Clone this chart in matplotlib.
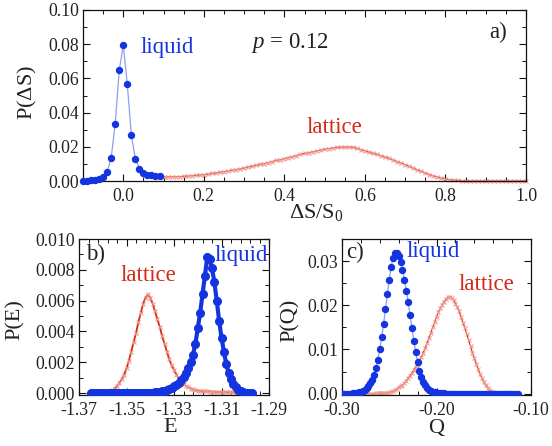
import numpy as np
import matplotlib
matplotlib.use("Agg")
import matplotlib.pyplot as plt
from matplotlib.ticker import FormatStrFormatter, FixedLocator, AutoMinorLocator

plt.rcParams['font.family'] = ['Liberation Serif', 'DejaVu Serif']
plt.rcParams['mathtext.fontset'] = 'custom'
plt.rcParams['mathtext.rm'] = 'Liberation Serif'
plt.rcParams['mathtext.it'] = 'Liberation Serif:italic'
plt.rcParams['axes.unicode_minus'] = False

# ---------------- data ----------------
# panel a: P(dS)
a_liquid_x = np.round(np.arange(-0.10, 0.095, 0.01), 3)
a_liquid_y = [0.0002, 0.0002, 0.0003, 0.0004, 0.0010, 0.0025, 0.0055, 0.0135, 0.0335, 0.0647,
              0.0795, 0.0565, 0.0270, 0.0130, 0.0073, 0.0047, 0.0037, 0.0033, 0.0030, 0.0030]
a_lattice_x = np.round(np.arange(0.10, 1.005, 0.01), 3)
a_lattice_y = [0.0024, 0.0024, 0.0025, 0.0025, 0.0026, 0.0027, 0.0029, 0.0031, 0.0033, 0.0035,
               0.0037, 0.0040, 0.0044, 0.0047, 0.0051, 0.0055, 0.0059, 0.0063, 0.0067, 0.0072,
               0.0076, 0.0081, 0.0086, 0.0091, 0.0097, 0.0102, 0.0108, 0.0114, 0.0120, 0.0125,
               0.0131, 0.0137, 0.0143, 0.0149, 0.0155, 0.0161, 0.0166, 0.0171, 0.0176, 0.0181,
               0.0186, 0.0190, 0.0193, 0.0196, 0.0198, 0.0199, 0.0199, 0.0197, 0.0191, 0.0184,
               0.0176, 0.0169, 0.0162, 0.0155, 0.0148, 0.0141, 0.0132, 0.0123, 0.0114, 0.0105,
               0.0096, 0.0086, 0.0076, 0.0066, 0.0056, 0.0047, 0.0038, 0.0030, 0.0023, 0.0017,
               0.0012, 0.0008, 0.0005, 0.0003, 0.0002, 0.0001,
               0, 0, 0, 0, 0, 0, 0, 0, 0, 0, 0, 0, 0, 0, 0]
a_xticks = [0.0, 0.2, 0.4, 0.6, 0.8, 1.0]
a_yticks = [0.00, 0.02, 0.04, 0.06, 0.08, 0.10]

# panel b: P(E)
b_liquid_x = np.round(np.arange(-1.365, -1.2965, 0.001), 4)
b_liquid_y = [0] * 25 + [
    0.00002, 0.00003, 0.00005, 0.00007, 0.0001, 0.00013, 0.00017, 0.00022, 0.00028, 0.00035,
    0.00044, 0.00055, 0.00068, 0.00084, 0.00104, 0.0013, 0.0016, 0.0020, 0.0025, 0.0032,
    0.0042, 0.0052, 0.0064, 0.0076, 0.0088, 0.0087, 0.0081, 0.0072, 0.0060, 0.0047,
    0.0036, 0.0027, 0.0019, 0.0013, 0.0009, 0.0006, 0.0004, 0.00022, 0.00012, 0.00006,
    0.00003, 0.00001, 0, 0]
b_lattice_x = np.round(np.arange(-1.359, -1.3015, 0.001), 4)
b_lattice_y = [0.00003, 0.00005, 0.0001, 0.00018, 0.0003, 0.00045, 0.00065, 0.0009, 0.0012, 0.0016,
               0.0021, 0.0027, 0.0033, 0.0039, 0.0046, 0.0052, 0.0058, 0.0062, 0.0064, 0.0062,
               0.0058, 0.0053, 0.0048, 0.0043, 0.0037, 0.0032, 0.0027, 0.0022, 0.0018, 0.0015,
               0.0012, 0.00095, 0.00075, 0.0006, 0.00048, 0.00038, 0.0003, 0.00024, 0.0002, 0.00017,
               0.00015, 0.00013, 0.00012, 0.00011, 0.0001, 0.0001, 0.00009, 0.00008, 0.00008, 0.00007,
               0.00007, 0.00006, 0.00006, 0.00005, 0.00005, 0.00004, 0.00003, 0.00002]
b_xticks = [-1.37, -1.35, -1.33, -1.31, -1.29]
b_yticks = [0.000, 0.002, 0.004, 0.006, 0.008, 0.010]

# panel c: P(Q)
c_x = np.round(np.arange(-0.300, -0.1135, 0.002), 4)
c_liquid_y = [0, 0, 0, 0, 0, 0.00002, 0.00005, 0.0001, 0.0002, 0.0003,
              0.0004, 0.0006, 0.0009, 0.0013, 0.0018, 0.0024, 0.0032, 0.0043, 0.0058, 0.0077,
              0.0100, 0.0128, 0.0158, 0.0191, 0.0225, 0.0258, 0.0287, 0.0307, 0.0318, 0.0319,
              0.0312, 0.0298, 0.0280, 0.0258, 0.0233, 0.0207, 0.0178, 0.0149, 0.0120, 0.0094,
              0.0071, 0.0052, 0.0038, 0.0027, 0.0019, 0.0013, 0.0009, 0.0006, 0.0004, 0.0003,
              0.0002, 0.00015, 0.0001, 0.00007, 0.00005, 0.00003] + [0] * 38
c_lattice_y = [0] * 15 + [
    0.00001, 0.00002, 0.00003, 0.00004, 0.00005, 0.00006, 0.00008, 0.0001, 0.00013, 0.0002,
    0.0003, 0.0004, 0.0006, 0.0008, 0.0011, 0.0014, 0.0017, 0.0020, 0.0024, 0.0029,
    0.0035, 0.0041, 0.0047, 0.0054, 0.0061, 0.0068, 0.0076, 0.0084, 0.0093, 0.0103,
    0.0114, 0.0126, 0.0138, 0.0150, 0.0162, 0.0174, 0.0184, 0.0193, 0.0201, 0.0208,
    0.0214, 0.0218, 0.0219, 0.0217, 0.0211, 0.0204, 0.0196, 0.0186, 0.0174, 0.0161,
    0.0148, 0.0135, 0.0121, 0.0107, 0.0093, 0.0080, 0.0068, 0.0056, 0.0045, 0.0035,
    0.0026, 0.0019, 0.0013, 0.0009, 0.0006, 0.0004, 0.00025, 0.00015, 0.0001, 0.00006,
    0.00003] + [0] * 8
c_xticks = [-0.30, -0.20, -0.10]
c_yticks = [0.00, 0.01, 0.02, 0.03]

# ---------------- styles ----------------
BLUE = '#1434e0'
BLUE_LINE = '#8f9ff0'
RED = '#d42a16'
RED_MARK = '#f09a92'
TXT = '#222222'
TICK_FS = 12.8
ANN_FS = 16.5
LAB_FS = 16

fig = plt.figure(figsize=(5.52, 4.46), dpi=100)
W, H = 552.0, 446.0

def add_ax(l, t, r, b):
    return fig.add_axes([l / W, 1 - b / H, (r - l) / W, (b - t) / H])

def style(ax, xt, yt, xfmt, yfmt, xminor, yminor):
    ax.xaxis.set_major_locator(FixedLocator(xt))
    ax.yaxis.set_major_locator(FixedLocator(yt))
    ax.xaxis.set_minor_locator(AutoMinorLocator(xminor))
    ax.yaxis.set_minor_locator(AutoMinorLocator(yminor))
    ax.xaxis.set_major_formatter(FormatStrFormatter(xfmt))
    ax.yaxis.set_major_formatter(FormatStrFormatter(yfmt))
    ax.tick_params(which='both', direction='in', top=True, right=True,
                   labelsize=TICK_FS, colors='#111111', labelcolor=TXT, pad=3)
    ax.tick_params(axis='x', which='major', pad=5)
    ax.tick_params(which='major', length=5, width=0.8)
    ax.tick_params(which='minor', length=2.8, width=0.7)
    for s in ax.spines.values():
        s.set_linewidth(0.9)
        s.set_color('#111111')

# panel a
axa = add_ax(83, 10, 526, 181)
axa.plot(a_lattice_x, a_lattice_y, '-', color=RED, lw=0.8, marker='x', ms=3.2,
         mec=RED_MARK, mew=0.8, clip_on=False, zorder=2)
axa.plot(a_liquid_x, a_liquid_y, '-', color=BLUE_LINE, lw=0.9, marker='o', ms=4.3,
         mfc=BLUE, mec=BLUE, clip_on=False, zorder=3)
axa.set_xlim(-0.1, 1.0)
axa.set_ylim(0, 0.1)
style(axa, a_xticks, a_yticks, '%.1f', '%.2f', 4, 2)
axa.text(0.11, 0.078, 'liquid', color=BLUE, fontsize=ANN_FS, ha='center', va='center')
axa.text(0.525, 0.0315, 'lattice', color=RED, fontsize=ANN_FS, ha='center', va='center')
axa.text(0.415, 0.0805, r'$p$ = 0.12', color=TXT, fontsize=ANN_FS, ha='center', va='center')
axa.text(0.93, 0.087, 'a)', color=TXT, fontsize=ANN_FS, ha='center', va='center')

# panel b
axb = add_ax(79, 239, 269, 395)
axb.plot(b_lattice_x, b_lattice_y, '-', color=RED, lw=1.3, marker='x', ms=3.4,
         mec=RED_MARK, mew=0.8, zorder=2)
axb.plot(b_liquid_x, b_liquid_y, '-', color=BLUE, lw=3.0, marker='o', ms=5.5,
         mfc=BLUE, mec=BLUE, zorder=3)
axb.set_xlim(-1.37, -1.29)
axb.set_ylim(-0.00012, 0.010)
style(axb, b_xticks, b_yticks, '%.2f', '%.3f', 5, 2)
axb.text(-1.3632, 0.0090, 'b)', color=TXT, fontsize=ANN_FS, ha='center', va='center')
axb.text(-1.3408, 0.0076, 'lattice', color=RED, fontsize=ANN_FS, ha='center', va='center')
axb.text(-1.3018, 0.0089, 'liquid', color=BLUE, fontsize=ANN_FS, ha='center', va='center')

# panel c
axc = add_ax(342, 239, 531, 395)
axc.plot(c_x, c_lattice_y, '-', color=RED, lw=0.8, marker='x', ms=3.2,
         mec=RED_MARK, mew=0.8, zorder=2)
axc.plot(c_x, c_liquid_y, '-', color=BLUE_LINE, lw=0.9, marker='o', ms=4.3,
         mfc=BLUE, mec=BLUE, zorder=3)
axc.set_xlim(-0.30, -0.10)
axc.set_ylim(-0.0003, 0.035)
style(axc, c_xticks, c_yticks, '%.2f', '%.2f', 5, 2)
axc.text(-0.2863, 0.0319, 'c)', color=TXT, fontsize=ANN_FS, ha='center', va='center')
axc.text(-0.2039, 0.0321, 'liquid', color=BLUE, fontsize=ANN_FS, ha='center', va='center')
axc.text(-0.1468, 0.0247, 'lattice', color=RED, fontsize=ANN_FS, ha='center', va='center')

# axis labels
fig.text(316 / W, 1 - 212 / H, r'$\Delta$S/S$_0$', fontsize=LAB_FS, ha='center', va='center', color=TXT)
fig.text(27 / W, 1 - 93 / H, r'P($\Delta$S)', fontsize=LAB_FS, ha='center', va='center',
         rotation=90, color=TXT)
fig.text(170 / W, 1 - 427 / H, 'E', fontsize=LAB_FS, ha='center', va='center', color=TXT)
fig.text(15 / W, 1 - 320 / H, 'P(E)', fontsize=LAB_FS, ha='center', va='center', rotation=90, color=TXT)
fig.text(436 / W, 1 - 429 / H, 'Q', fontsize=LAB_FS, ha='center', va='center', color=TXT)
fig.text(290 / W, 1 - 320 / H, 'P(Q)', fontsize=LAB_FS, ha='center', va='center', rotation=90, color=TXT)

fig.savefig('out.png', dpi=100)
